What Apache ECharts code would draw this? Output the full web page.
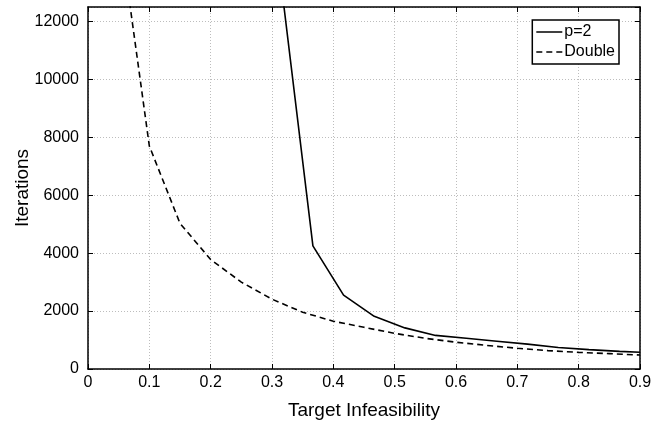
<!DOCTYPE html>
<html><head><meta charset="utf-8">
<script src="https://cdn.jsdelivr.net/npm/echarts@6/dist/echarts.min.js"></script>
<style>html,body{margin:0;padding:0;background:#fff}#c{width:668px;height:426px}</style>
</head><body><div id="c"></div>
<script>
const xTicks = [0, 0.1, 0.2, 0.3, 0.4, 0.5, 0.6, 0.7, 0.8, 0.9];
const yTicks = [0, 2000, 4000, 6000, 8000, 10000, 12000];
const p2X = [0.3167, 0.3667, 0.4167, 0.4667, 0.5167, 0.5667, 0.6167, 0.6667, 0.7167, 0.7667, 0.8167, 0.8667, 0.9];
const p2Y = [13000, 4250, 2550, 1820, 1420, 1160, 1060, 960, 860, 740, 670, 610, 576];
const dblX = [0.05, 0.1, 0.15, 0.2, 0.25, 0.3, 0.35, 0.4, 0.45, 0.5, 0.55, 0.6, 0.65, 0.7, 0.75, 0.8, 0.85, 0.9];
const dblY = [15400, 7700, 5030, 3780, 3000, 2410, 1960, 1650, 1440, 1230, 1060, 925, 815, 715, 635, 575, 530, 483];

const font = "'Liberation Sans', Arial, sans-serif";
const chart = echarts.init(document.getElementById('c'), null, {renderer: 'canvas'});
const gridLine = {show: true, lineStyle: {color: '#bdbdbd', type: [1, 2], width: 1}};
const solidIcon = 'path://M0,0h26v1.5h-26z';
const dashIcon = 'path://M0,0h6v1.5h-6z M10,0h6v1.5h-6z M20,0h6v1.5h-6z';
const p2Data = p2X.map((x, i) => [x, p2Y[i]]);
const dblData = dblX.map((x, i) => [x, dblY[i]]);
chart.setOption({
  animation: false,
  backgroundColor: '#fff',
  grid: {left: 88, right: 28, top: 7, bottom: 57, outerBoundsMode: 'none', containLabel: false},
  legend: {
    right: 49, top: 20,
    orient: 'vertical',
    backgroundColor: '#fff',
    borderColor: '#000', borderWidth: 1.5, borderRadius: 0,
    padding: [3, 4, 3, 4],
    itemGap: 2, itemWidth: 26, itemHeight: 1.5,
    textStyle: {fontFamily: font, fontSize: 16, lineHeight: 18, color: '#000', padding: [0, 0, 0, -3]},
    data: [{name: 'p=2', icon: solidIcon}, {name: 'Double', icon: dashIcon}]
  },
  xAxis: [{
    type: 'value', min: 0, max: 0.9, interval: 0.1,
    name: 'Target Infeasibility', nameLocation: 'middle', nameGap: 32, nameMoveOverlap: false,
    nameTextStyle: {fontFamily: font, fontSize: 19, color: '#000'},
    axisLine: {show: true, onZero: false, lineStyle: {color: '#000', width: 1.5}},
    axisTick: {show: true, inside: true, length: 5, lineStyle: {color: '#000'}},
    axisLabel: {fontFamily: font, fontSize: 16, color: '#000', margin: 6,
      formatter: v => { const i = Math.round(v * 10); return xTicks.includes(i / 10) ? String(i / 10) : ''; }},
    splitLine: gridLine
  }, {
    type: 'value', min: 0, max: 0.9, interval: 0.1, position: 'top',
    axisLine: {show: true, onZero: false, lineStyle: {color: '#000', width: 1.5}},
    axisTick: {show: true, inside: true, length: 5, lineStyle: {color: '#000'}},
    axisLabel: {show: false}, splitLine: {show: false}
  }],
  yAxis: [{
    type: 'value', min: 0, max: 12500, interval: 2000,
    name: 'Iterations', nameLocation: 'middle', nameGap: 56, nameMoveOverlap: false,
    nameTextStyle: {fontFamily: font, fontSize: 19, color: '#000'},
    axisLine: {show: true, onZero: false, lineStyle: {color: '#000', width: 1.5}},
    axisTick: {show: true, inside: true, length: 5, lineStyle: {color: '#000'}},
    axisLabel: {fontFamily: font, fontSize: 16, color: '#000', margin: 9, showMaxLabel: false,
      formatter: v => yTicks.includes(v) ? String(v) : ''},
    splitLine: gridLine
  }, {
    type: 'value', min: 0, max: 12500, interval: 2000, position: 'right',
    axisLine: {show: true, onZero: false, lineStyle: {color: '#000', width: 1.5}},
    axisTick: {show: true, inside: true, length: 5, lineStyle: {color: '#000'}},
    axisLabel: {show: false}, splitLine: {show: false}
  }],
  series: [{
    name: 'p=2', type: 'line', showSymbol: false, symbol: 'none', clip: true,
    data: p2Data,
    lineStyle: {color: '#000', width: 1.6, type: 'solid'},
    itemStyle: {color: '#000'}
  }, {
    name: 'Double', type: 'line', showSymbol: false, symbol: 'none', clip: true,
    data: dblData,
    lineStyle: {color: '#000', width: 1.6, type: [6, 4]},
    itemStyle: {color: '#000'}
  }, {
    name: 'frame', type: 'line', xAxisIndex: 1, yAxisIndex: 1, data: p2Data, silent: true,
    showSymbol: false, symbol: 'none', lineStyle: {opacity: 0}, itemStyle: {opacity: 0}, tooltip: {show: false}
  }]
});
</script></body></html>
